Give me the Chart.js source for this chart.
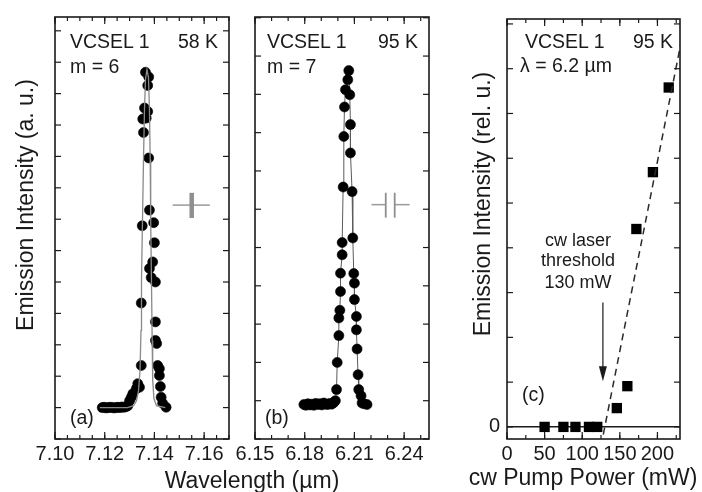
<!DOCTYPE html>
<html>
<head>
<meta charset="utf-8">
<script src="https://cdn.jsdelivr.net/npm/chart.js@4.4.1/dist/chart.umd.min.js"></script>
<style>
  body { margin: 0; background: #fff; }
  #fig { position: relative; width: 702px; height: 492px; overflow: hidden;
         font-family: "Liberation Sans", Arial, sans-serif; color: #1a1a1a; }
  #fig canvas { position: absolute; left: 0; top: 0; }
  .t { position: absolute; white-space: nowrap; font-size: 19.5px; line-height: 19px; }
  .s { position: absolute; white-space: nowrap; font-size: 18px; line-height: 18px; width: 120px; text-align: center; }
  .ti { position: absolute; white-space: nowrap; font-size: 23px; line-height: 30px; height: 30px; width: 320px; text-align: center; }
  .rot { transform: rotate(-90deg); }
</style>
</head>
<body>
<div id="fig">
  <canvas id="panelA" width="702" height="492"></canvas>
  <canvas id="panelB" width="702" height="492"></canvas>
  <canvas id="panelC" width="702" height="492"></canvas>

  <div class="t" style="left:70px;top:32px">VCSEL 1</div>
  <div class="t" style="left:178px;top:32px">58 K</div>
  <div class="t" style="left:70px;top:57px">m = 6</div>
  <div class="t" style="left:70px;top:408px">(a)</div>

  <div class="t" style="left:267px;top:32px">VCSEL 1</div>
  <div class="t" style="left:378px;top:32px">95 K</div>
  <div class="t" style="left:267px;top:57px">m = 7</div>
  <div class="t" style="left:265px;top:408px">(b)</div>

  <div class="t" style="left:525px;top:32px">VCSEL 1</div>
  <div class="t" style="left:633px;top:32px">95 K</div>
  <div class="t" style="left:520px;top:56px">λ = 6.2 µm</div>
  <div class="t" style="left:522px;top:385px">(c)</div>
  <div class="s" style="left:518px;top:231px">cw laser</div>
  <div class="s" style="left:518px;top:251px">threshold</div>
  <div class="s" style="left:518px;top:273px">130 mW</div>

  <div class="ti" style="left:92px;top:465px">Wavelength (µm)</div>
  <div class="ti" style="left:423px;top:462px">cw Pump Power (mW)</div>
  <div class="ti rot" style="left:-135px;top:190px">Emission Intensity (a. u.)</div>
  <div class="ti rot" style="left:322px;top:189px">Emission Intensity (rel. u.)</div>
</div>

<script>
// (a) 58 K, m = 6 : puntos medidos y curva de ajuste
const lambdaA = [7.1190, 7.1198, 7.1206, 7.1214, 7.1222, 7.1230, 7.1238, 7.1246, 7.1254, 7.1262, 7.1270, 7.1278, 7.1286,
  7.1293, 7.1300, 7.1307, 7.1313, 7.1327, 7.1333, 7.1340, 7.1347, 7.1347, 7.1351, 7.1353, 7.1356, 7.1360, 7.1364,
  7.1367, 7.1373, 7.1373, 7.1377, 7.1377, 7.1380, 7.1380, 7.1387, 7.1393, 7.1397, 7.1400, 7.1404, 7.1404, 7.1404,
  7.1409, 7.1413, 7.1420, 7.1420, 7.1424, 7.1427, 7.1433, 7.1447];
const intensidadA = [0.00, 0.01, -0.01, 0.00, 0.01, 0.00, -0.01, 0.00, 0.01, 0.00, 0.02, 0.01, 0.03,
  0.06, 0.22, 0.33, 0.44, 0.60, 0.76, 0.65, 1.34, 3.33, 5.79, 9.19, 8.76, 9.54, 10.68,
  9.22, 10.26, 9.43, 10.53, 7.95, 6.29, 4.43, 4.14, 4.64, 5.89, 5.25, 4.00, 2.73, 2.14,
  2.04, 1.34, 1.24, 1.02, 0.67, 0.33, 0.14, 0.01];
const ajusteLambdaA = [7.1180, 7.1292, 7.1316, 7.1328, 7.1336, 7.1342, 7.1346, 7.1348, 7.1352, 7.1356, 7.1360, 7.1364,
  7.1370, 7.1376, 7.1380, 7.1383, 7.1385, 7.1388, 7.1391, 7.1393, 7.1398, 7.1408, 7.1444];
const ajusteIntA = [0, 0, 0.06, 0.22, 0.54, 1.18, 2.46, 4.06, 5.97, 7.89, 9.49, 10.45,
  10.77, 10.51, 9.49, 7.89, 5.97, 4.06, 2.14, 0.86, 0.29, 0.06, 0];
const ticksA = [7.10, 7.12, 7.14, 7.16];

// (b) 95 K, m = 7
const lambdaB = [6.1795, 6.1807, 6.1819, 6.1831, 6.1843, 6.1855, 6.1867, 6.1879, 6.1891, 6.1903, 6.1915, 6.1927,
  6.1939, 6.1951, 6.1963, 6.1975, 6.1985, 6.1992, 6.1996, 6.2006, 6.2006, 6.2012, 6.2016, 6.2016, 6.2026, 6.2026,
  6.2032, 6.2036, 6.2040, 6.2046, 6.2060, 6.2066, 6.2072, 6.2076, 6.2076, 6.2086, 6.2090, 6.2096, 6.2100, 6.2100,
  6.2112, 6.2112, 6.2116, 6.2122, 6.2126, 6.2140, 6.2146, 6.2158, 6.2176];
const intensidadB = [-0.10, -0.12, -0.08, -0.11, -0.09, -0.12, -0.07, -0.10, -0.08, -0.11, -0.06, -0.09,
  -0.10, -0.07, -0.09, -0.05, 0.00, 0.29, 1.00, 1.70, 2.16, 2.36, 2.85, 3.33, 3.81, 4.13,
  5.58, 6.90, 7.67, 8.12, 8.38, 8.62, 7.99, 7.21, 6.47, 5.46, 4.25, 3.32, 3.07, 2.64,
  2.20, 1.85, 1.35, 0.68, 0.29, 0.13, -0.06, -0.08, -0.10];
const ticksB = [6.15, 6.18, 6.21, 6.24];

// (c) potencia de bombeo cw frente a emision, lambda = 6.2 um
const potenciaC = [50, 75, 91, 109, 120, 146, 160, 172, 194, 215];
const emisionC = [0, 0, 0, 0, 0, 0.42, 0.91, 4.42, 5.69, 7.58];
const ajustePotC = [128, 231];
const ajusteEmiC = [-0.17, 8.55];
const ticksC = [0, 50, 100, 150, 200];

// marcas de resolucion y flecha del umbral (unidades de datos)
const resolucionA = [[7.1473, 6.45, 7.1623, 6.45, 1.6, '#a8a8a8'], [7.1550, 6.04, 7.1550, 6.84, 4.5, '#8f8f8f']];
const resolucionB = [[6.2203, 5.12, 6.2289, 5.12, 1.5, '#9a9a9a'], [6.2343, 5.12, 6.2433, 5.12, 1.5, '#9a9a9a'],
  [6.2289, 4.78, 6.2289, 5.43, 1.8, '#8f8f8f'], [6.2343, 4.78, 6.2343, 5.43, 1.8, '#8f8f8f']];
const flechaC = { x: 127.5, desde: 2.78, hasta: 1.02 };

const puntos = (xs, ys) => xs.map((x, i) => ({ x, y: ys[i] }));
const tinta = '#1a1a1a';
const fuente = { family: '"Liberation Sans", Arial, sans-serif', size: 20 };

// marco con marcas hacia dentro en los cuatro lados
const marco = {
  id: 'marco',
  afterDatasetsDraw(chart, args, o) {
    const { ctx, chartArea: a, scales: { x, y } } = chart;
    const linea = (x0, y0, x1, y1) => { ctx.beginPath(); ctx.moveTo(x0, y0); ctx.lineTo(x1, y1); ctx.stroke(); };
    const pasos = (s, paso, fn) => {
      for (let i = Math.ceil(s.min / paso - 1e-6); i * paso <= s.max + 1e-9; i++) fn(s.getPixelForValue(i * paso));
    };
    ctx.save();
    ctx.strokeStyle = tinta;
    ctx.lineWidth = 1.2;
    pasos(x, o.xMenor, p => { linea(p, a.bottom, p, a.bottom - 4); linea(p, a.top, p, a.top + 4); });
    x.ticks.forEach(t => {
      const p = x.getPixelForValue(t.value);
      linea(p, a.bottom, p, a.bottom - 7); linea(p, a.top, p, a.top + 7);
    });
    pasos(y, o.yPaso, p => { linea(a.left, p, a.left + 6, p); linea(a.right, p, a.right - 6, p); });
    ctx.lineWidth = 1.6;
    ctx.strokeRect(a.left, a.top, a.right - a.left, a.bottom - a.top);
    ctx.restore();
  }
};

const marcas = {
  id: 'marcas',
  afterDatasetsDraw(chart, args, o) {
    const { ctx, scales: { x, y } } = chart;
    ctx.save();
    (o.segmentos || []).forEach(([x0, y0, x1, y1, w, c]) => {
      ctx.strokeStyle = c;
      ctx.lineWidth = w;
      ctx.beginPath();
      ctx.moveTo(x.getPixelForValue(x0), y.getPixelForValue(y0));
      ctx.lineTo(x.getPixelForValue(x1), y.getPixelForValue(y1));
      ctx.stroke();
    });
    if (o.flecha) {
      const px = x.getPixelForValue(o.flecha.x);
      const p0 = y.getPixelForValue(o.flecha.desde);
      const p1 = y.getPixelForValue(o.flecha.hasta);
      ctx.strokeStyle = tinta;
      ctx.fillStyle = tinta;
      ctx.lineWidth = 1.2;
      ctx.beginPath(); ctx.moveTo(px, p0); ctx.lineTo(px, p1 - 10); ctx.stroke();
      ctx.beginPath(); ctx.moveTo(px, p1); ctx.lineTo(px - 4, p1 - 15); ctx.lineTo(px + 4, p1 - 15); ctx.closePath(); ctx.fill();
    }
    ctx.restore();
  }
};

const ejeX = (min, max, ticks, dec) => ({
  type: 'linear', min, max,
  grid: { display: false, drawTicks: false },
  border: { display: false },
  afterBuildTicks: s => { s.ticks = ticks.map(v => ({ value: v })); },
  afterFit: s => { s.height = 53; s.paddingLeft = 0; s.paddingRight = 0; },
  ticks: { padding: 3, color: tinta, font: fuente, maxRotation: 0, autoSkip: false,
           callback: v => v.toFixed(dec) }
});

const opciones = (padding, x, y, marcoOpts, marcasOpts) => ({
  responsive: false,
  animation: false,
  events: [],
  layout: { padding },
  plugins: { legend: { display: false }, tooltip: { enabled: false }, marco: marcoOpts, marcas: marcasOpts },
  scales: { x, y }
});

new Chart(document.getElementById('panelA'), {
  type: 'scatter',
  data: {
    datasets: [
      {
        label: 'ajuste',
        data: puntos(ajusteLambdaA, ajusteIntA),
        showLine: true,
        borderColor: '#8a8a8a',
        borderWidth: 1.3,
        pointRadius: 0
      },
      {
        label: 'medida',
        data: puntos(lambdaA, intensidadA),
        pointRadius: 5,
        backgroundColor: '#000',
        borderColor: '#000',
        borderWidth: 0.6
      }
    ]
  },
  options: opciones({ left: 55, right: 473, top: 17, bottom: 0 },
    ejeX(7.10, 7.17, ticksA, 2),
    { type: 'linear', display: false, min: -1, max: 12.44 },
    { xMenor: 0.005, yPaso: 1 },
    { segmentos: resolucionA }),
  plugins: [marco, marcas]
});

new Chart(document.getElementById('panelB'), {
  type: 'scatter',
  data: {
    datasets: [
      {
        label: 'medida',
        data: puntos(lambdaB, intensidadB),
        showLine: true,
        borderColor: '#5a5a5a',
        borderWidth: 1,
        pointRadius: 5,
        backgroundColor: '#000',
        pointBorderColor: '#000',
        pointBorderWidth: 0.6
      }
    ]
  },
  options: opciones({ left: 255, right: 273, top: 17, bottom: 0 },
    ejeX(6.15, 6.255, ticksB, 2),
    { type: 'linear', display: false, min: -1, max: 10.02 },
    { xMenor: 0.01, yPaso: 1 },
    { segmentos: resolucionB }),
  plugins: [marco, marcas]
});

new Chart(document.getElementById('panelC'), {
  type: 'scatter',
  data: {
    datasets: [
      {
        label: 'umbral',
        data: puntos(ajustePotC, ajusteEmiC),
        showLine: true,
        borderColor: '#2a2a2a',
        borderWidth: 1.5,
        borderDash: [7, 5],
        pointRadius: 0
      },
      {
        label: 'emision',
        data: puntos(potenciaC, emisionC),
        pointStyle: 'rect',
        pointRadius: 7.3,
        backgroundColor: '#000',
        borderColor: '#000',
        borderWidth: 0
      }
    ]
  },
  options: opciones({ left: 460, right: 22, top: 17, bottom: 0 },
    ejeX(0, 230, ticksC, 0),
    {
      type: 'linear', min: -0.27, max: 9.11,
      grid: { drawTicks: false, lineWidth: 1.4,
              color: c => (c.tick && c.tick.value === 0 ? tinta : 'rgba(0,0,0,0)') },
      border: { display: false },
      afterBuildTicks: s => { s.ticks = s.ticks.filter(t => t.value >= s.min && t.value <= s.max); },
      afterFit: s => { s.width = 47; },
      ticks: { stepSize: 1, includeBounds: false, padding: 7, color: tinta, font: fuente,
               callback: v => (v === 0 ? '0' : '') }
    },
    { xMenor: 25, yPaso: 1 },
    { flecha: flechaC }),
  plugins: [marco, marcas]
});
</script>
</body>
</html>
